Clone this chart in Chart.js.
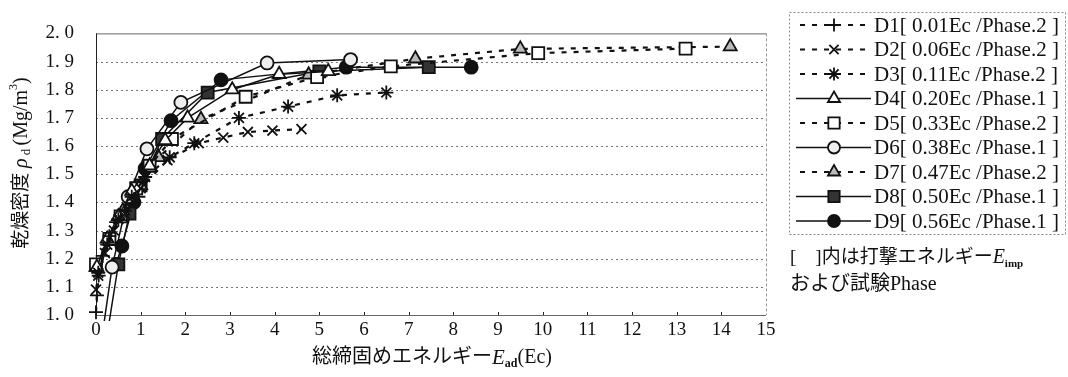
<!DOCTYPE html>
<html>
<head>
<meta charset="utf-8">
<script src="https://cdn.jsdelivr.net/npm/chart.js@4/dist/chart.umd.min.js"></script>
<style>
  html, body { margin: 0; padding: 0; background: #fff; }
</style>
</head>
<body>
<canvas id="chart" width="1068" height="377"></canvas>
<script>
// 総締固めエネルギー E_ad (Ec) と 乾燥密度 (Mg/m3)
var d1Ead = [0, 0.02, 0.06, 0.15, 0.3, 0.45, 0.65, 0.95];
var d1Rho = [1.01, 1.07, 1.14, 1.21, 1.28, 1.33, 1.37, 1.42];

var d2Ead = [0, 0.05, 0.2, 0.4, 0.65, 1.0, 1.6, 2.3, 2.85, 3.4, 3.95, 4.6];
var d2Rho = [1.09, 1.14, 1.22, 1.30, 1.36, 1.45, 1.55, 1.61, 1.63, 1.65, 1.655, 1.66];

var d3Ead = [0.05, 0.25, 0.5, 0.8, 1.1, 1.65, 2.2, 3.2, 4.3, 5.4, 6.5];
var d3Rho = [1.15, 1.25, 1.34, 1.42, 1.49, 1.56, 1.61, 1.70, 1.74, 1.78, 1.79];

var d4Ead = [0.02, 0.25, 0.5, 0.8, 1.2, 1.55, 2.05, 3.05, 4.1, 5.2];
var d4Rho = [1.17, 1.27, 1.35, 1.44, 1.53, 1.62, 1.70, 1.80, 1.855, 1.865];

var d5Ead = [0, 0.3, 0.55, 0.9, 1.2, 1.7, 3.35, 4.95, 6.6, 9.9, 13.2];
var d5Rho = [1.18, 1.27, 1.35, 1.45, 1.53, 1.625, 1.775, 1.845, 1.883, 1.93, 1.946];

var d6Ead = [0.05, 0.36, 0.72, 1.14, 1.9, 3.83, 5.7];
var d6Rho = [0.83, 1.17, 1.42, 1.59, 1.755, 1.895, 1.907];

var d7Ead = [0, 0.3, 0.6, 1.0, 1.4, 2.35, 4.76, 7.15, 9.5, 14.2];
var d7Rho = [1.17, 1.27, 1.37, 1.46, 1.56, 1.695, 1.853, 1.91, 1.945, 1.953];

var d8Ead = [0.15, 0.5, 0.75, 1.0, 1.48, 2.5, 5.0, 7.45];
var d8Rho = [0.83, 1.18, 1.36, 1.46, 1.625, 1.79, 1.865, 1.88];

var d9Ead = [0.45, 0.58, 0.85, 1.1, 1.68, 2.8, 5.6, 8.4];
var d9Rho = [1.18, 1.245, 1.40, 1.52, 1.69, 1.835, 1.88, 1.88];

var seriesLabels = [
    'D1[ 0.01Ec /Phase.2 ]', 'D2[ 0.06Ec /Phase.2 ]', 'D3[ 0.11Ec /Phase.2 ]',
    'D4[ 0.20Ec /Phase.1 ]', 'D5[ 0.33Ec /Phase.2 ]', 'D6[ 0.38Ec /Phase.1 ]',
    'D7[ 0.47Ec /Phase.2 ]', 'D8[ 0.50Ec /Phase.1 ]', 'D9[ 0.56Ec /Phase.1 ]'
];
var yTickLabels = ['1. 0', '1. 1', '1. 2', '1. 3', '1. 4', '1. 5', '1. 6', '1. 7', '1. 8', '1. 9', '2. 0'];

var SERIF = "'Liberation Serif', 'Noto Sans CJK JP', serif";
var DASH = [5, 7];

function pts(xs, ys) {
    var out = [];
    for (var i = 0; i < xs.length; i++) out.push({x: xs[i], y: ys[i]});
    return out;
}

function makeSet(i, xs, ys, style, fill, dashed, radius) {
    return {
        label: seriesLabels[i],
        data: pts(xs, ys),
        borderColor: '#111',
        borderWidth: dashed ? 2.2 : 1.5,
        borderDash: dashed ? DASH : [],
        pointStyle: style,
        pointRadius: radius,
        pointBorderWidth: 1.8,
        pointBorderColor: '#111',
        pointBackgroundColor: fill,
        showLine: true,
        tension: 0,
        clip: {left: 12, top: 12, right: 12, bottom: 6}
    };
}

var datasets = [
    makeSet(0, d1Ead, d1Rho, 'cross', '#111', true, 7),
    makeSet(1, d2Ead, d2Rho, 'crossRot', '#111', true, 7),
    makeSet(2, d3Ead, d3Rho, 'star', '#111', true, 7),
    makeSet(3, d4Ead, d4Rho, 'triangle', '#fff', false, 7.5),
    makeSet(4, d5Ead, d5Rho, 'rect', '#fff', true, 8.5),
    makeSet(5, d6Ead, d6Rho, 'circle', '#eee', false, 6.5),
    makeSet(6, d7Ead, d7Rho, 'triangle', '#bbb', true, 7.5),
    makeSet(7, d8Ead, d8Rho, 'rect', '#333', false, 8.5),
    makeSet(8, d9Ead, d9Rho, 'circle', '#111', false, 6.5)
];

// 枠・グリッド
var framePlugin = {
    id: 'frame',
    beforeDatasetsDraw: function (chart) {
        var ctx = chart.ctx, a = chart.chartArea, ys = chart.scales.y, xs = chart.scales.x;
        ctx.save();
        ctx.strokeStyle = '#777';
        ctx.lineWidth = 1;
        ctx.setLineDash([2, 3]);
        for (var v = 1; v < 10; v++) {
            var py = Math.round(ys.getPixelForValue(1 + v / 10)) + 0.5;
            ctx.beginPath();
            ctx.moveTo(a.left, py);
            ctx.lineTo(a.right, py);
            ctx.stroke();
        }
        ctx.setLineDash([3, 2]);
        ctx.strokeStyle = '#999';
        ctx.beginPath();
        ctx.moveTo(a.right + 0.5, a.top);
        ctx.lineTo(a.right + 0.5, a.bottom);
        ctx.stroke();
        ctx.setLineDash([]);
        ctx.strokeStyle = '#666';
        ctx.beginPath();
        ctx.moveTo(a.left, a.top + 0.5);
        ctx.lineTo(a.right, a.top + 0.5);
        ctx.moveTo(a.left, a.bottom + 0.5);
        ctx.lineTo(a.right, a.bottom + 0.5);
        ctx.stroke();
        ctx.strokeStyle = '#222';
        ctx.beginPath();
        ctx.moveTo(a.left + 0.5, a.top);
        ctx.lineTo(a.left + 0.5, a.bottom);
        ctx.stroke();
        // x軸の小さい目盛
        for (var t = 1; t < 15; t++) {
            var px = Math.round(xs.getPixelForValue(t)) + 0.5;
            ctx.beginPath();
            ctx.moveTo(px, a.bottom);
            ctx.lineTo(px, a.bottom - 3);
            ctx.stroke();
        }
        ctx.restore();
    },
    afterDraw: function (chart) {
        var ctx = chart.ctx;
        ctx.save();
        ctx.fillStyle = '#111';
        ctx.textBaseline = 'middle';

        // x軸タイトル
        var xParts = [
            {t: '総締固めエネルギー', f: "20px " + SERIF, dy: 0},
            {t: 'E', f: "italic 21px " + SERIF, dy: 0},
            {t: 'ad', f: "bold 12px " + SERIF, dy: 6},
            {t: '(Ec)', f: "20px " + SERIF, dy: 0}
        ];
        drawParts(ctx, xParts, 432, 358);

        // y軸タイトル
        ctx.save();
        ctx.translate(22, 163);
        ctx.rotate(-Math.PI / 2);
        var yParts = [
            {t: '乾燥密度 ', f: "19px " + SERIF, dy: 0},
            {t: 'ρ', f: "italic 20px " + SERIF, dy: 0},
            {t: ' d ', f: "13px " + SERIF, dy: 5},
            {t: '(Mg/m', f: "20px " + SERIF, dy: 0},
            {t: '3', f: "12px " + SERIF, dy: -8},
            {t: ')', f: "20px " + SERIF, dy: 0}
        ];
        drawParts(ctx, yParts, 0, 0);
        ctx.restore();

        // 凡例
        var lx = 789, ly = 12, lw = 276, lh = 222;
        ctx.strokeStyle = '#888';
        ctx.lineWidth = 1;
        ctx.setLineDash([2, 2]);
        ctx.strokeRect(lx + 0.5, ly + 0.5, lw, lh);
        ctx.setLineDash([]);
        chart.data.datasets.forEach(function (ds, i) {
            var cy = 25 + i * 24.5;
            ctx.strokeStyle = ds.borderColor;
            ctx.lineWidth = ds.borderWidth;
            ctx.setLineDash(ds.borderDash);
            ctx.beginPath();
            ctx.moveTo(ds.borderDash.length ? 800 : 796, cy);
            ctx.lineTo(871, cy);
            ctx.stroke();
            ctx.setLineDash([]);
            ctx.fillStyle = ds.pointBackgroundColor;
            ctx.strokeStyle = ds.pointBorderColor;
            ctx.lineWidth = ds.pointBorderWidth;
            Chart.helpers.drawPoint(ctx, {
                pointStyle: ds.pointStyle, radius: ds.pointRadius - 0.5,
                rotation: 0, borderWidth: ds.pointBorderWidth
            }, 834, cy);
            ctx.fillStyle = '#111';
            ctx.font = "21px " + SERIF;
            ctx.textAlign = 'left';
            ctx.fillText(ds.label, 874, cy + 1);
        });

        // 注記
        ctx.textAlign = 'left';
        var note1 = [
            {t: '[    ]内は打撃エネルギー', f: "19px " + SERIF, dy: 0},
            {t: 'E', f: "italic 20px " + SERIF, dy: 0},
            {t: 'imp', f: "bold 11px " + SERIF, dy: 6}
        ];
        drawParts(ctx, note1, null, 258, 790);
        ctx.font = "20px " + SERIF;
        ctx.fillText('および試験Phase', 790, 285);
        ctx.restore();
    }
};

function drawParts(ctx, parts, cx, cy, startX) {
    var total = 0;
    parts.forEach(function (p) {
        ctx.font = p.f;
        p.w = ctx.measureText(p.t).width;
        total += p.w;
    });
    var x = startX !== undefined ? startX : cx - total / 2;
    ctx.textAlign = 'left';
    parts.forEach(function (p) {
        ctx.font = p.f;
        ctx.fillText(p.t, x, cy + p.dy);
        x += p.w;
    });
}

new Chart(document.getElementById('chart'), {
    type: 'line',
    data: {datasets: datasets},
    plugins: [framePlugin],
    options: {
        responsive: false,
        animation: false,
        devicePixelRatio: 1,
        layout: {padding: {top: 15, right: 302, bottom: 0, left: 0}},
        plugins: {legend: {display: false}, tooltip: {enabled: false}},
        scales: {
            x: {
                type: 'linear',
                min: 0,
                max: 15,
                grid: {display: false, drawTicks: false},
                border: {display: false},
                ticks: {
                    stepSize: 1,
                    padding: 4,
                    color: '#111',
                    font: {family: SERIF, size: 19}
                },
                afterFit: function (scale) { scale.height = 62; }
            },
            y: {
                min: 1.0,
                max: 2.0,
                grid: {display: false, drawTicks: false},
                border: {display: false},
                ticks: {
                    stepSize: 0.1,
                    padding: 22,
                    color: '#111',
                    font: {family: SERIF, size: 19},
                    callback: function (value, index) { return yTickLabels[index]; }
                },
                afterFit: function (scale) { scale.width = 96; }
            }
        }
    }
});
</script>
</body>
</html>
